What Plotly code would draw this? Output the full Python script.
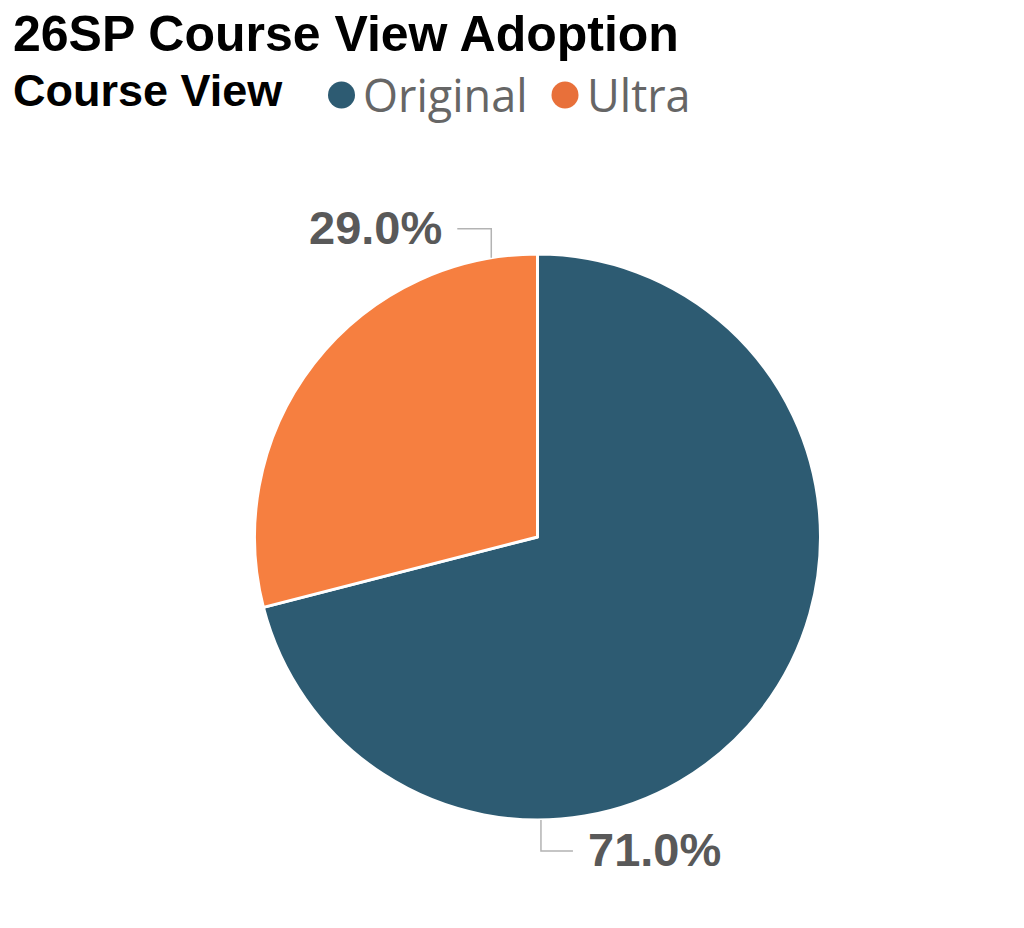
import math
import plotly.graph_objects as go

# ---- data ----
categories = ["Original", "Ultra"]
values = [71.0, 29.0]
colors = ["#2D5B72", "#F67F40"]
legend_colors = ["#2D5B72", "#E8703A"]

title_text = "26SP Course View Adoption"
legend_title = "Course View"

W, H = 1024, 928
# pie geometry (pixels)
CX, CY, R = 537.5, 537.0, 283.0


def px(x):
    return x / W


def py(y):
    return 1 - y / H


fig = go.Figure()
fig.add_trace(go.Pie(
    labels=categories,
    values=values,
    sort=False,
    direction="clockwise",
    rotation=0,
    marker=dict(colors=colors, line=dict(color="white", width=3)),
    textinfo="none",
    hoverinfo="label+percent",
    showlegend=False,
    domain=dict(x=[px(CX - R), px(CX + R)], y=[py(CY + R), py(CY - R)]),
))

# ---- percent labels with leader lines ----
total = sum(values)
# label layout: attach angle (deg clockwise from top), elbow dir, horiz dir
label_layout = {
    "Original": dict(angle=179.3, dy=31, dx=32, side="right"),
    "Ultra": dict(angle=350.6, dy=-29, dx=-34, side="left"),
}
shapes = []
annotations = []
for cat, v in zip(categories, values):
    L = label_layout[cat]
    a = math.radians(L["angle"])
    x0 = CX + R * math.sin(a)
    y0 = CY - R * math.cos(a)
    y1 = y0 + L["dy"]
    x2 = x0 + L["dx"]
    shapes.append(dict(type="path", xref="paper", yref="paper",
                       path=f"M {px(x0)} {py(y0)} L {px(x0)} {py(y1)} L {px(x2)} {py(y1)}",
                       line=dict(color="#B3B3B3", width=1.5)))
    pct = v / total * 100
    gap = 13
    annotations.append(dict(
        text=f"{pct:.1f}%", xref="paper", yref="paper", showarrow=False,
        x=px(x2 + (gap if L["side"] == "right" else -gap)), y=py(y1 - 1),
        xanchor="left" if L["side"] == "right" else "right", yanchor="middle",
        font=dict(family="Liberation Sans, Arial", size=47, color="#595959", weight="bold"),
    ))

# ---- title ----
annotations.append(dict(
    text=f"<b>{title_text}</b>", xref="paper", yref="paper", showarrow=False,
    x=px(11), y=py(34), xanchor="left", yanchor="middle",
    font=dict(family="Liberation Sans, Arial", size=50, color="black"),
))

# ---- manual legend ----
annotations.append(dict(
    text=f"<b>{legend_title}</b>", xref="paper", yref="paper", showarrow=False,
    x=px(11), y=py(91), xanchor="left", yanchor="middle",
    font=dict(family="Liberation Sans, Arial", size=45, color="black"),
))
legend_items_x = [341.5, 565.0]
for cat, col, lx in zip(categories, legend_colors, legend_items_x):
    rr = 13.5
    shapes.append(dict(type="circle", xref="paper", yref="paper",
                       x0=px(lx - rr), x1=px(lx + rr), y0=py(95 + rr), y1=py(95 - rr),
                       fillcolor=col, line=dict(width=0)))
    annotations.append(dict(
        text=cat, xref="paper", yref="paper", showarrow=False,
        x=px(lx + rr + 6), y=py(95), xanchor="left", yanchor="middle",
        font=dict(family="Open Sans, Noto Sans", size=45, color="#666666"),
    ))

fig.update_layout(
    width=W, height=H,
    margin=dict(l=0, r=0, t=0, b=0),
    paper_bgcolor="white", plot_bgcolor="white",
    shapes=shapes, annotations=annotations,
)

fig.write_html("out.html")
